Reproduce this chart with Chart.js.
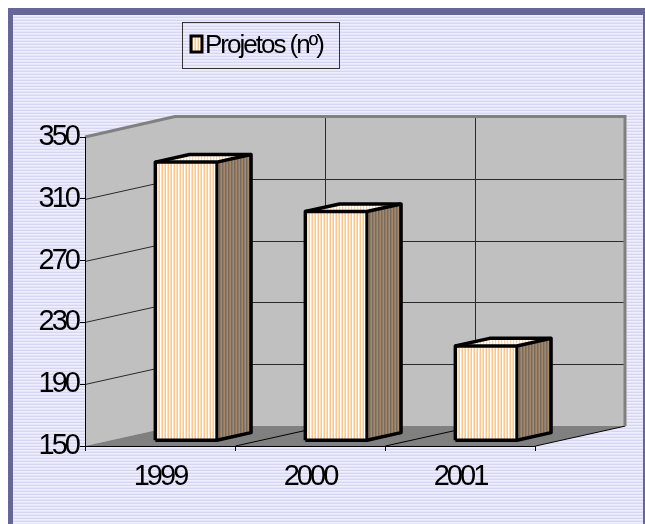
<!DOCTYPE html>
<html>
<head>
<meta charset="utf-8">
<script src="https://cdn.jsdelivr.net/npm/chart.js@4.4.0/dist/chart.umd.min.js"></script>
<style>
    html, body { margin: 0; padding: 0; background: #fff; overflow: hidden; }
    #graph { display: block; }
</style>
</head>
<body>
<canvas id="graph" width="645" height="524"></canvas>
<script>
const years = ['1999', '2000', '2001'];
const projetos = [330, 298, 211];
const seriesName = 'Projetos (nº)';
const yTicks = { min: 150, max: 350, step: 40 };

// 3d depth of the plot box, and where the bars sit inside it (0 = front, 1 = back)
const DX = 90, DY = -20;
const BAR_FRONT = 0.29, BAR_BACK = 0.67;
const FONT = '"Liberation Sans", Arial, sans-serif';

function makePattern(colors, vertical) {
    const c = document.createElement('canvas');
    c.width = vertical ? colors.length : 1;
    c.height = vertical ? 1 : colors.length;
    const g = c.getContext('2d');
    colors.forEach((col, i) => {
        g.fillStyle = col;
        if (vertical) g.fillRect(i, 0, 1, 1); else g.fillRect(0, i, 1, 1);
    });
    return c;
}

const bgStripes = makePattern(['#eeeeff', '#e6e6fa', '#d6d6f0'], false);
const frontStripes = makePattern(['#ffc48a', '#ffffff', '#ffe0bd'], true);
const sideStripes = makePattern(['#7a6a5c', '#8e7c6b', '#a6896a'], true);
const topStripes = makePattern(['#ffd4a6', '#fff6ec', '#ffffff'], true);

function poly(ctx, pts, fill) {
    ctx.beginPath();
    ctx.moveTo(pts[0][0], pts[0][1]);
    for (let i = 1; i < pts.length; i++) ctx.lineTo(pts[i][0], pts[i][1]);
    ctx.closePath();
    ctx.fillStyle = fill;
    ctx.fill();
}

function line(ctx, pts, color, width) {
    ctx.beginPath();
    ctx.moveTo(pts[0][0], pts[0][1]);
    for (let i = 1; i < pts.length; i++) ctx.lineTo(pts[i][0], pts[i][1]);
    ctx.strokeStyle = color;
    ctx.lineWidth = width;
    ctx.stroke();
}

const box3d = {
    id: 'box3d',
    beforeDraw(chart) {
        const ctx = chart.ctx;
        const W = chart.width, H = chart.height;
        const a = chart.chartArea;
        const L = a.left, R = a.right, T = a.top, B = a.bottom;
        const yScale = chart.scales.y;
        const cw = (R - L) / years.length;

        ctx.save();
        // frame + striped background
        ctx.fillStyle = '#ffffff';
        ctx.fillRect(0, 0, W, H);
        ctx.fillStyle = '#666699';
        ctx.fillRect(8, 8, W - 8, H - 8);
        ctx.fillStyle = ctx.createPattern(bgStripes, 'repeat');
        ctx.fillRect(13, 15, W - 15, H - 15);

        // walls and floor
        poly(ctx, [[L, T], [L + DX, T + DY], [L + DX, B + DY], [L, B]], '#c0c0c0');
        poly(ctx, [[L + DX, T + DY], [R + DX, T + DY], [R + DX, B + DY], [L + DX, B + DY]], '#c0c0c0');
        poly(ctx, [[L, B], [R, B], [R + DX, B + DY], [L + DX, B + DY]], '#808080');

        // value gridlines on the side and back wall
        yScale.ticks.forEach(t => {
            if (t.value <= yTicks.min || t.value >= yTicks.max) return;
            const y = Math.round(yScale.getPixelForValue(t.value)) + 0.5;
            line(ctx, [[L, y], [L + DX, y + DY], [R + DX, y + DY]], '#2a2a2a', 1);
        });

        // category gridlines on back wall and floor
        for (let i = 1; i <= years.length; i++) {
            const x = Math.round(L + i * cw) + 0.5;
            if (i < years.length) {
                line(ctx, [[x + DX, T + DY], [x + DX, B + DY]], '#2a2a2a', 1);
            }
            line(ctx, [[x, B], [x + DX, B + DY]], '#000', 1);
        }

        // wall thickness edges
        line(ctx, [[L, T], [L + DX, T + DY - 0.5], [R + DX, T + DY - 0.5], [R + DX, B + DY]], '#808080', 3);
        ctx.restore();

        ctx.letterSpacing = '-3px';
    },
    afterDatasetsDraw(chart) {
        const ctx = chart.ctx;
        const meta = chart.getDatasetMeta(0);
        const floorY = chart.scales.y.getPixelForValue(yTicks.min);
        const front = ctx.createPattern(frontStripes, 'repeat');
        const side = ctx.createPattern(sideStripes, 'repeat');
        const top = ctx.createPattern(topStripes, 'repeat');
        const ddx = DX * (BAR_BACK - BAR_FRONT), ddy = DY * (BAR_BACK - BAR_FRONT);

        ctx.save();
        meta.data.forEach(bar => {
            const w = bar.width;
            const x0 = bar.x - w / 2 + DX * BAR_FRONT, x1 = x0 + w;
            const yT = bar.y + DY * BAR_FRONT;
            const yB = Math.min(bar.base, floorY) + DY * BAR_FRONT;

            poly(ctx, [[x1, yT], [x1 + ddx, yT + ddy], [x1 + ddx, yB + ddy], [x1, yB]], side);
            poly(ctx, [[x0, yT], [x0 + ddx, yT + ddy], [x1 + ddx, yT + ddy], [x1, yT]], top);
            poly(ctx, [[x0, yT], [x1, yT], [x1, yB], [x0, yB]], front);

            ctx.lineJoin = 'round';
            line(ctx, [[x0, yB], [x0, yT], [x0 + ddx, yT + ddy], [x1 + ddx, yT + ddy],
                [x1 + ddx, yB + ddy], [x1, yB], [x0, yB]], '#000', 3.5);
            line(ctx, [[x0, yT], [x1, yT], [x1 + ddx, yT + ddy]], '#000', 3.5);
            line(ctx, [[x1, yT], [x1, yB]], '#000', 3);
        });
        ctx.restore();
    },
    afterDraw(chart) {
        const ctx = chart.ctx;
        ctx.save();
        ctx.letterSpacing = '-2px';
        ctx.strokeStyle = '#333';
        ctx.lineWidth = 1;
        ctx.strokeRect(182.5, 22.5, 157, 46);

        ctx.fillStyle = ctx.createPattern(frontStripes, 'repeat');
        ctx.fillRect(191, 36, 11, 16);
        ctx.strokeStyle = '#000';
        ctx.lineWidth = 3;
        ctx.strokeRect(191, 36, 11, 16);

        ctx.fillStyle = '#000';
        ctx.font = '26px ' + FONT;
        ctx.textBaseline = 'alphabetic';
        ctx.fillText(chart.data.datasets[0].label, 205, 53);
        ctx.restore();
    }
};

const chart = new Chart(document.getElementById('graph'), {
    type: 'bar',
    data: {
        labels: years,
        datasets: [{
            label: seriesName,
            data: projetos,
            backgroundColor: 'rgba(0,0,0,0)',
            borderWidth: 0,
            barPercentage: 0.41,
            categoryPercentage: 1,
        }],
    },
    options: {
        responsive: false,
        animation: false,
        layout: {
            padding: { left: 0, top: 137, right: 110, bottom: 0 }
        },
        plugins: {
            legend: { display: false },
            tooltip: { enabled: false },
        },
        scales: {
            x: {
                grid: {
                    drawOnChartArea: false,
                    tickLength: 5,
                    color: '#000',
                },
                border: { color: '#000', width: 1 },
                ticks: {
                    color: '#000',
                    font: { family: FONT, size: 29 },
                    padding: 9,
                },
                afterFit(s) { s.height = 78; },
            },
            y: {
                min: yTicks.min,
                max: yTicks.max,
                grid: {
                    drawOnChartArea: false,
                    tickLength: 5,
                    color: '#000',
                },
                border: { color: '#000', width: 1 },
                ticks: {
                    stepSize: yTicks.step,
                    color: '#000',
                    font: { family: FONT, size: 29 },
                    padding: 2,
                },
                afterFit(s) { s.width = 85; },
            },
        },
    },
    plugins: [box3d],
});
</script>
</body>
</html>
